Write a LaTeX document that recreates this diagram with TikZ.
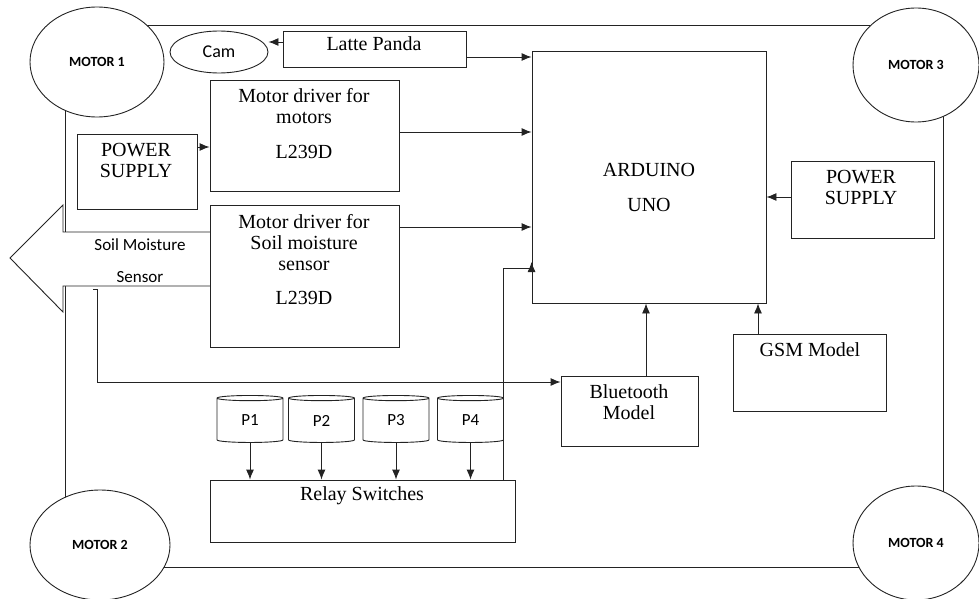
\documentclass[tikz,border=0pt]{standalone}
\usepackage{fontspec}
\setmainfont{Liberation Serif}
\newfontfamily\calibri{Carlito}
\usepackage{tikz}
\usetikzlibrary{arrows.meta, shapes.geometric}
\definecolor{wire}{RGB}{35, 35, 35}

\begin{document}
\begin{tikzpicture}[x=1pt, y=-1pt, line width=0.9pt, draw=wire,
    >={Latex[length=10pt, width=8pt]},
    box/.style={draw=wire, fill=white, inner sep=0pt},
    motor/.style={draw=wire, ellipse, fill=white, inner sep=0pt,
        minimum width=134pt, minimum height=110pt,
        font=\calibri\bfseries\fontsize{14}{14}\selectfont},
    pump/.style={draw=wire, cylinder, shape border rotate=90, aspect=0.3,
        minimum width=66pt, minimum height=47pt, inner sep=0pt,
        font=\calibri\fontsize{17}{17}\selectfont},
    stxt/.style={inner sep=0pt, align=center, font=\fontsize{20}{21}\selectfont},
    sans/.style={inner sep=0pt, font=\calibri\fontsize{17}{17}\selectfont}]
    \useasboundingbox (0,0) rectangle (979,599);

    % Chassis
    \draw (65,25) rectangle (943,567);

    % Soil moisture sensor arrow
    \draw[fill=white] (210,232) -- (63,232) -- (63,205) -- (10,258)
        -- (63,312) -- (63,286) -- (210,286);
    \node[sans] (soil) at (140,245) {Soil Moisture};
    \node[sans] (sens) at (140,277) {Sensor};

    % Motors
    \node[motor] (m1) at (97,62) {MOTOR 1};
    \node[motor, minimum width=126pt, minimum height=114pt] (m3) at (916,65) {MOTOR 3};
    \node[motor, minimum width=140pt] (m2) at (100,545) {MOTOR 2};
    \node[motor, minimum width=126pt, minimum height=114pt] (m4) at (916,543) {MOTOR 4};

    % Camera and Latte Panda
    \node[draw=wire, ellipse, minimum width=98pt, minimum height=42pt, inner sep=0pt,
        font=\calibri\fontsize{18}{18}\selectfont] (cam) at (219,52) {Cam};
    \node[box, minimum width=183pt, minimum height=36pt] (latte) at (374.5,49) {};
    \node[stxt] (lattelbl) at (374,44) {Latte Panda};

    % Arduino
    \node[box, minimum width=234pt, minimum height=252pt] (ard) at (649,177) {};
    \node[stxt] (ardlbl) at (649,170) {ARDUINO};
    \node[stxt] (unolbl) at (649,205) {UNO};

    % Motor drivers
    \node[box, minimum width=189pt, minimum height=111pt] (mdrv) at (304.5,135.5) {};
    \node[stxt] (mdrvlbl) at (304,106) {Motor driver for\\motors};
    \node[stxt] (mdrvic) at (304,152) {L239D};
    \node[box, minimum width=189pt, minimum height=142pt] (sdrv) at (304.5,276) {};
    \node[stxt] (sdrvlbl) at (304,243) {Motor driver for\\Soil moisture\\sensor};
    \node[stxt] (sdrvic) at (304,298) {L239D};

    % Power supplies
    \node[box, minimum width=120pt, minimum height=75pt] (psl) at (137,171.5) {};
    \node[stxt] (psllbl) at (136,160) {POWER\\SUPPLY};
    \node[box, minimum width=143pt, minimum height=77pt] (psr) at (862.5,199.5) {};
    \node[stxt] (psrlbl) at (861,187) {POWER\\SUPPLY};

    % Bluetooth and GSM
    \node[box, minimum width=137pt, minimum height=70pt] (bt) at (629.5,411) {};
    \node[stxt] (btlbl) at (629,402) {Bluetooth\\Model};
    \node[box, minimum width=153pt, minimum height=77pt] (gsm) at (809.5,372.5) {};
    \node[stxt] (gsmlbl) at (810,350) {GSM Model};

    % Relay switches and pumps
    \node[box, minimum width=305pt, minimum height=62pt] (relay) at (362.5,511) {};
    \node[stxt] (relaylbl) at (362,496) {Relay Switches};
    \foreach \i/\x in {1/250, 2/321.5, 3/396, 4/470.5} {
        \node[pump] (p\i) at (\x,420.5) {P\i};
        \draw[->] (p\i.south) -- (p\i.south |- relay.north);
    }

    % Connections
    \coordinate (probe) at (93,289);
    \draw[->] (latte.west |- 0,42) -- (cam.east |- 0,42);
    \draw[->] (latte.east |- 0,57) -- (ard.west |- 0,57);
    \draw[->] (mdrv.east |- 0,132) -- (ard.west |- 0,132);
    \draw[->] (psl.east |- 0,147) -- (mdrv.west |- 0,147);
    \draw[->] (sdrv.east |- 0,227) -- (ard.west |- 0,227);
    \draw[->] (psr.west |- 0,197) -- (ard.east |- 0,197);
    \draw[->] (bt.north -| 646,0) -- (ard.south -| 646,0);
    \draw[->] (gsm.north -| 758,0) -- (ard.south -| 758,0);
    \draw[->] (probe) -- (97,289) -- (97,382) -- (bt.west |- 0,382);
    \draw[->] (relay.north -| 503,0) -- (503,268) -- (ard.west |- 0,268)
        -- (ard.west |- 0,262);
\end{tikzpicture}
\end{document}
